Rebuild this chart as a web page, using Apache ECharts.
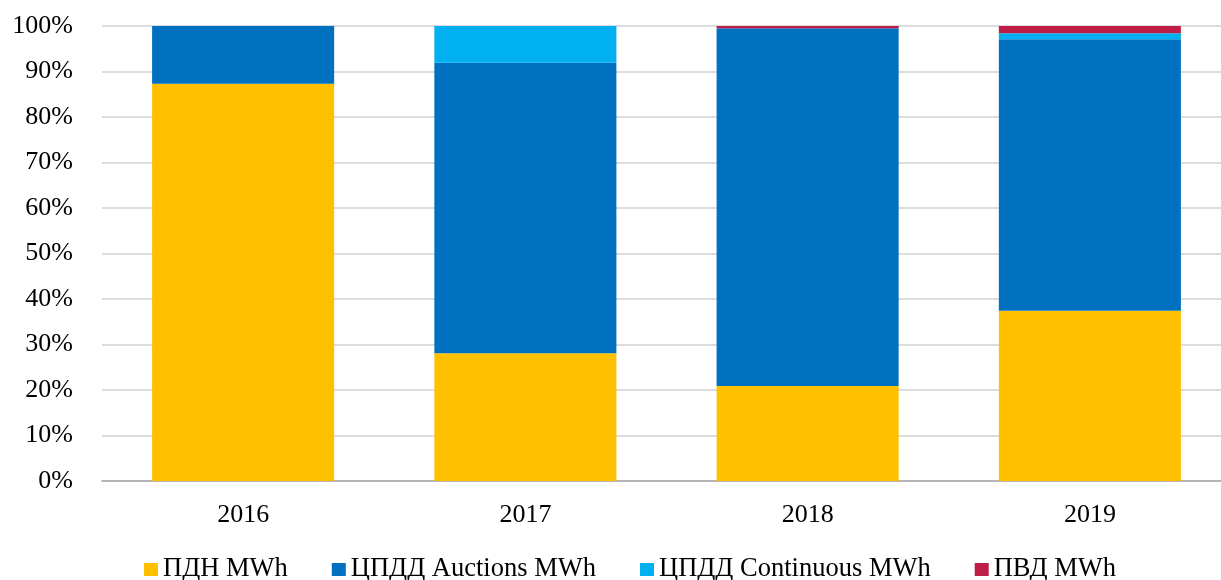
<!DOCTYPE html>
<html><head><meta charset="utf-8">
<script src="https://cdn.jsdelivr.net/npm/echarts@6/dist/echarts.min.js"></script>
<style>html,body{margin:0;padding:0;background:#fff}#c{width:1221px;height:580px}</style>
</head><body><div id="c"></div>
<script>
const categories = ['2016', '2017', '2018', '2019'];
const seriesNames = ['ПДН MWh', 'ЦПДД Auctions MWh', 'ЦПДД Continuous MWh', 'ПВД MWh'];
const pdn = [87.3, 28.1, 20.9, 37.4];
const auctions = [12.7, 63.8, 78.6, 59.7];
const continuous = [0, 8.1, 0, 1.3];
const pvd = [0, 0, 0.5, 1.6];
const colors = ['#FFC000', '#0070C0', '#00B0F0', '#BE1E45'];
const font = '"Liberation Serif", "Times New Roman", serif';
const values = [pdn, auctions, continuous, pvd];
const chart = echarts.init(document.getElementById('c'), null, {renderer: 'canvas'});
chart.setOption({
  animation: false,
  textStyle: {fontFamily: font},
  grid: {left: 102, right: -10, top: 26, bottom: 99, containLabel: false, outerBoundsMode: 'none'},
  legend: {
    top: 551, left: 139, itemWidth: 14, itemHeight: 13, itemGap: 44,
    icon: 'rect',
    textStyle: {fontFamily: font, fontSize: 26.5, color: '#000'},
    data: seriesNames
  },
  xAxis: {
    type: 'category', data: categories,
    axisLine: {lineStyle: {color: '#a6a6a6', width: 1.5}},
    axisTick: {show: false},
    axisLabel: {fontFamily: font, fontSize: 26, color: '#000', margin: 21}
  },
  yAxis: {
    type: 'value', min: 0, max: 100, interval: 10,
    axisLabel: {formatter: '{value}%', fontFamily: font, fontSize: 26, color: '#000', margin: 29},
    splitLine: {lineStyle: {color: '#d0d0d0', width: 1.5}},
    axisLine: {show: false}, axisTick: {show: false}
  },
  series: seriesNames.map((n, i) => ({
    name: n, type: 'bar', stack: 'total', data: values[i],
    barWidth: '64.5%', itemStyle: {color: colors[i]}
  }))
});
</script></body></html>
